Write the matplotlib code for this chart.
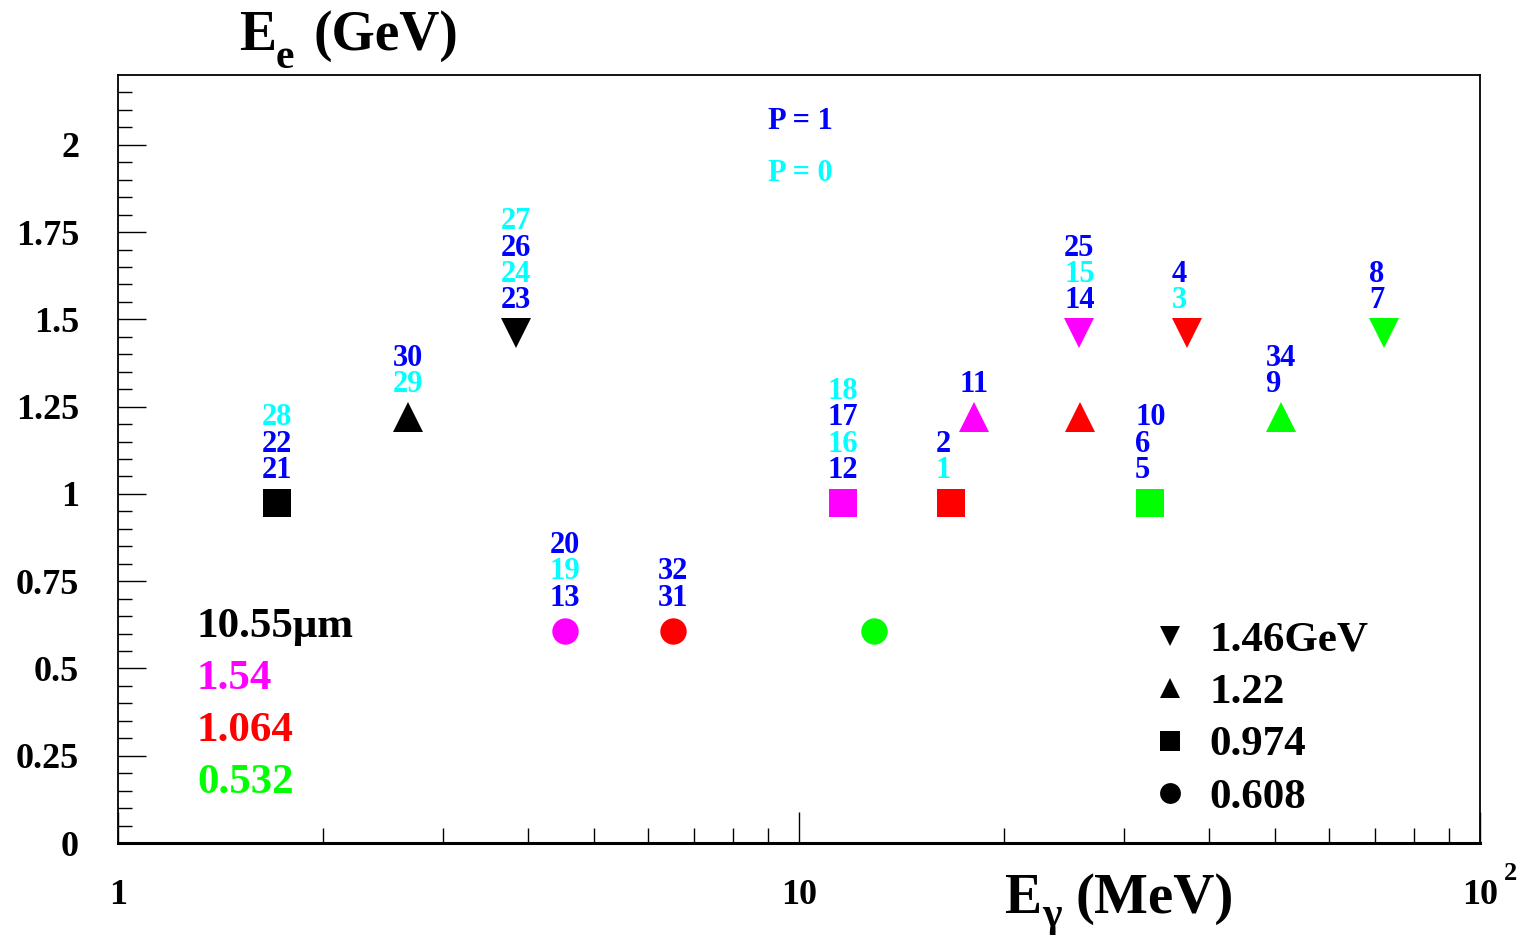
import matplotlib
matplotlib.use("Agg")
import matplotlib.pyplot as plt
from matplotlib.ticker import FixedLocator, NullFormatter

plt.rcParams['font.family'] = ['Liberation Serif', 'DejaVu Serif']
plt.rcParams['font.weight'] = 'bold'

# ---- data ----
e_gamma = [1.71, 2.67, 3.84, 4.53, 6.53, 12.9, 11.6, 16.7, 18.1, 25.8, 25.9, 32.8, 37.1, 51.0, 72.3]
e_e = [0.974, 1.22, 1.46, 0.608, 0.608, 0.608, 0.974, 0.974, 1.22, 1.46, 1.22, 0.974, 1.46, 1.22, 1.46]
laser = ['10.55', '10.55', '10.55', '1.54', '1.064', '0.532', '1.54', '1.064', '1.54', '1.54',
         '1.064', '0.532', '1.064', '0.532', '0.532']
run_labels = [
    [('21', 'b'), ('22', 'b'), ('28', 'c')],
    [('29', 'c'), ('30', 'b')],
    [('23', 'b'), ('24', 'c'), ('26', 'b'), ('27', 'c')],
    [('13', 'b'), ('19', 'c'), ('20', 'b')],
    [('31', 'b'), ('32', 'b')],
    [],
    [('12', 'b'), ('16', 'c'), ('17', 'b'), ('18', 'c')],
    [('1', 'c'), ('2', 'b')],
    [('11', 'b')],
    [('14', 'b'), ('15', 'c'), ('25', 'b')],
    [],
    [('5', 'b'), ('6', 'b'), ('10', 'b')],
    [('3', 'c'), ('4', 'b')],
    [('9', 'b'), ('34', 'b')],
    [('7', 'b'), ('8', 'b')],
]
laser_names = ['10.55', '1.54', '1.064', '0.532']
laser_texts = ['10.55\u03bcm', '1.54', '1.064', '0.532']
beam_energies = [1.46, 1.22, 0.974, 0.608]
beam_texts = ['1.46GeV', '1.22', '0.974', '0.608']
pol_texts = ['P = 1', 'P = 0']
y_ticks = [0, 0.25, 0.5, 0.75, 1, 1.25, 1.5, 1.75, 2]
y_ticklabels = ['0', '0.25', '0.5', '0.75', '1', '1.25', '1.5', '1.75', '2']
x_ticks = [1, 10, 100]
x_ticklabels = ['1', '10', '10']

# ---- styles ----
laser_color = {'10.55': 'black', '1.54': '#ff00ff', '1.064': '#ff0000', '0.532': '#00ff00'}
energy_marker = {1.46: 'v', 1.22: '^', 0.974: 's', 0.608: 'o'}
energy_msize = {1.46: 21, 1.22: 21, 0.974: 20, 0.608: 19}
lab_color = {'b': '#0000ff', 'c': '#00ffff'}

W, H = 1526, 939
fig = plt.figure(figsize=(W / 100, H / 100), dpi=100)
ax = fig.add_axes([118 / W, 1 - 843 / H, (1480 - 118) / W, (843 - 75) / H])
ax.set_xscale('log')
ax.set_xlim(1, 100)
ax.set_ylim(0, 2.2)

for x, y, l, labs in zip(e_gamma, e_e, laser, run_labels):
    ax.plot([x], [y], linestyle='none', marker=energy_marker[y], color=laser_color[l],
            markersize=energy_msize[y], markeredgewidth=0)
    for i, (t, c) in enumerate(labs):
        ax.annotate(t, xy=(x, y), xytext=(-11, 26 + 18.9 * i), textcoords='offset points',
                    ha='left', va='center_baseline', fontsize=22, fontweight='bold',
                    color=lab_color[c])

# laser legend (left)
for i, (n, t) in enumerate(zip(laser_names, laser_texts)):
    ax.text(1.306, 0.631 - 0.1485 * i, t, color=laser_color[n], fontsize=31,
            fontweight='bold', ha='left', va='center_baseline')

# beam energy legend (right)
for i, (e, t) in enumerate(zip(beam_energies, beam_texts)):
    yy = 0.594 - 0.1503 * i
    ax.plot([35.07], [yy], linestyle='none', marker=energy_marker[e], color='black',
            markersize=15, markeredgewidth=0)
    ax.text(40.1, yy, t, color='black', fontsize=31, fontweight='bold',
            ha='left', va='center_baseline')

# polarisation legend
for i, (t, c) in enumerate(zip(pol_texts, ['b', 'c'])):
    ax.text(9.0, 2.077 - 0.149 * i, t, color=lab_color[c], fontsize=22,
            fontweight='bold', ha='left', va='center_baseline')

# axes styling (ROOT-like)
for s in ['top', 'right', 'left', 'bottom']:
    ax.spines[s].set_linewidth(1.3)
    ax.spines[s].set_color('black')
ax.spines['bottom'].set_linewidth(2.2)

ax.yaxis.set_major_locator(FixedLocator(y_ticks))
ax.yaxis.set_minor_locator(FixedLocator([k * 0.05 for k in range(1, 44) if k % 5 != 0]))
ax.set_yticklabels(y_ticklabels)
ax.tick_params(axis='y', which='major', direction='in', length=20, width=1, left=True,
               right=False, labelsize=26, pad=28)
ax.tick_params(axis='y', which='minor', direction='in', length=10, width=1, left=True, right=False)

ax.xaxis.set_major_locator(FixedLocator(x_ticks))
ax.xaxis.set_minor_locator(FixedLocator([2, 3, 4, 5, 6, 7, 8, 9, 20, 30, 40, 50, 60, 70, 80, 90]))
ax.xaxis.set_minor_formatter(NullFormatter())
ax.set_xticklabels(x_ticklabels)
ax.tick_params(axis='x', which='major', direction='in', length=22, width=1, bottom=True,
               top=False, labelsize=26, pad=26)
ax.tick_params(axis='x', which='minor', direction='in', length=11, width=1, bottom=True, top=False)
for lab in ax.get_yticklabels() + ax.get_xticklabels():
    lab.set_fontweight('bold')
# exponent of the 10^2 label
fig.text(1504 / W, 1 - 880 / H, '2', fontsize=19, fontweight='bold', ha='left', va='baseline')

# axis titles (ROOT style, subscript drawn separately)
def fx(px):
    return px / W

def fy(py):
    return 1 - py / H

fig.text(fx(239), fy(50), 'E', fontsize=40, fontweight='bold', ha='left', va='baseline')
fig.text(fx(276), fy(68), 'e', fontsize=30, fontweight='bold', ha='left', va='baseline')
fig.text(fx(313), fy(50), '(GeV)', fontsize=40, fontweight='bold', ha='left', va='baseline')

fig.text(fx(1004), fy(913), 'E', fontsize=40, fontweight='bold', ha='left', va='baseline')
fig.text(fx(1042), fy(926), '\u03b3', fontsize=30, fontweight='bold', ha='left', va='baseline')
fig.text(fx(1075), fy(913), '(MeV)', fontsize=41, fontweight='bold', ha='left', va='baseline')

fig.savefig('out.png', dpi=100)
